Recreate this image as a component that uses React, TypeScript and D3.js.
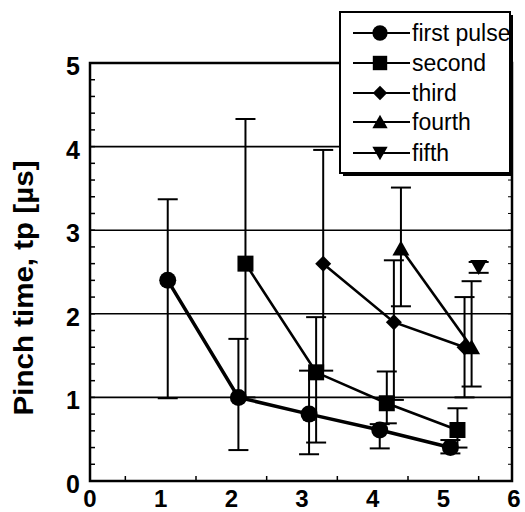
import React from "react";
import * as d3 from "d3";

const seriesNames = ["first pulse", "second", "third", "fourth", "fifth"];
const markerKinds = ["circle", "square", "diamond", "triUp", "triDown"];

const firstX = [1.1, 2.1, 3.1, 4.1, 5.1];
const firstY = [2.4, 1.0, 0.8, 0.61, 0.4];
const firstHi = [3.37, 1.7, 1.32, 0.68, 0.49];
const firstLo = [0.99, 0.37, 0.32, 0.39, 0.33];

const secondX = [2.2, 3.2, 4.2, 5.2];
const secondY = [2.6, 1.3, 0.93, 0.61];
const secondHi = [4.33, 1.96, 1.31, 0.87];
const secondLo = [1.0, 0.46, 0.69, 0.4];

const thirdX = [3.3, 4.3, 5.3];
const thirdY = [2.6, 1.9, 1.6];
const thirdHi = [3.96, 2.64, 2.2];
const thirdLo = [1.32, 0.97, 1.0];

const fourthX = [4.4, 5.4];
const fourthY = [2.78, 1.6];
const fourthHi = [3.51, 2.39];
const fourthLo = [2.09, 1.13];

const fifthX = [5.5];
const fifthY = [2.56];
const fifthHi = [2.62];
const fifthLo = [2.49];

const xTicks = [0, 1, 2, 3, 4, 5, 6];
const yTicks = [0, 1, 2, 3, 4, 5];
const gridValues = [1, 2, 3, 4];
const yLabel = "Pinch time, tp [µs]";

const series = [
  { x: firstX, y: firstY, hi: firstHi, lo: firstLo },
  { x: secondX, y: secondY, hi: secondHi, lo: secondLo },
  { x: thirdX, y: thirdY, hi: thirdHi, lo: thirdLo },
  { x: fourthX, y: fourthY, hi: fourthHi, lo: fourthLo },
  { x: fifthX, y: fifthY, hi: fifthHi, lo: fifthLo },
];

const L = 90, R = 512, T = 63, B = 481;
const xs = d3.scaleLinear().domain([0, 6]).range([L, R + 2]);
const ys = d3.scaleLinear().domain([0, 5]).range([B, T]);

function Marker({ kind, cx, cy, s = 1 }: { kind: string; cx: number; cy: number; s?: number }) {
  if (kind === "circle") return <circle cx={cx} cy={cy} r={8.5 * s} fill="#000" />;
  if (kind === "square") {
    const h = 8 * s;
    return <rect x={cx - h} y={cy - h} width={2 * h} height={2 * h} fill="#000" />;
  }
  if (kind === "diamond") {
    const h = 8 * s;
    return <path d={`M${cx},${cy - h}L${cx + h},${cy}L${cx},${cy + h}L${cx - h},${cy}Z`} fill="#000" />;
  }
  if (kind === "triUp") {
    const w = 8.5 * s, h = 7 * s;
    return <path d={`M${cx},${cy - h - 1}L${cx + w},${cy + h}L${cx - w},${cy + h}Z`} fill="#000" />;
  }
  const w = 8.5 * s, h = 7 * s;
  return <path d={`M${cx - w},${cy - h}L${cx + w},${cy - h}L${cx},${cy + h + 1}Z`} fill="#000" />;
}

export default function App() {
  const line = d3.line<[number, number]>().x((d) => xs(d[0])).y((d) => ys(d[1]));
  const yMinor = d3.range(0, 5.001, 0.2);
  const xMinor = d3.range(0.5, 6, 1);
  const cap = 10;
  const font = "'Liberation Sans', Arial, Helvetica, sans-serif";
  const legRows = [33, 63, 93, 122, 153];
  return (
    <svg width={525} height={512} style={{ position: "absolute", left: 0, top: 0 }} fontFamily={font}>
      <rect width={525} height={512} fill="#fff" />
      {/* grid */}
      {gridValues.map((g) => (
        <line key={g} x1={L} x2={R} y1={ys(g)} y2={ys(g)} stroke="#000" strokeWidth={1.6} />
      ))}
      {/* ticks */}
      {yMinor.map((v, i) => (
        <g key={"ym" + i}>
          <line x1={L} x2={L + 5} y1={ys(v)} y2={ys(v)} stroke="#000" strokeWidth={1.5} />
          <line x1={R} x2={R - 4} y1={ys(v)} y2={ys(v)} stroke="#000" strokeWidth={1} />
        </g>
      ))}
      {xMinor.map((v, i) => (
        <line key={"xm" + i} x1={xs(v)} x2={xs(v)} y1={B} y2={B - 5} stroke="#000" strokeWidth={1.5} />
      ))}
      {/* frame */}
      <rect x={L} y={T} width={R - L} height={B - T} fill="none" stroke="#000" strokeWidth={2.5} />
      {/* error bars */}
      {series.map((s, si) =>
        s.x.map((xv, i) => {
          const px = xs(xv);
          return (
            <g key={`e${si}-${i}`} stroke="#000" strokeWidth={2}>
              <line x1={px} x2={px} y1={ys(s.hi[i])} y2={ys(s.lo[i])} />
              <line x1={px - cap} x2={px + cap} y1={ys(s.hi[i])} y2={ys(s.hi[i])} />
              <line x1={px - cap} x2={px + cap} y1={ys(s.lo[i])} y2={ys(s.lo[i])} />
            </g>
          );
        })
      )}
      {/* lines */}
      {series.map((s, si) => (
        <path
          key={"l" + si}
          d={line(s.x.map((xv, i) => [xv, s.y[i]] as [number, number])) || ""}
          fill="none"
          stroke="#000"
          strokeWidth={si === 0 ? 3.5 : 2.6}
        />
      ))}
      {/* markers */}
      {series.map((s, si) =>
        s.x.map((xv, i) => <Marker key={`m${si}-${i}`} kind={markerKinds[si]} cx={xs(xv)} cy={ys(s.y[i])} />)
      )}
      {/* tick labels */}
      {yTicks.map((t) => (
        <text key={"yt" + t} x={80} y={ys(t) + 12} textAnchor="end" fontSize={25} fontWeight="bold">
          {t}
        </text>
      ))}
      {xTicks.map((t) => (
        <text key={"xt" + t} x={xs(t)} y={507} textAnchor="middle" fontSize={24} fontWeight="bold">
          {t}
        </text>
      ))}
      {/* y label */}
      <text
        transform={`translate(33,288) rotate(-90)`}
        textAnchor="middle"
        fontSize={27}
        fontWeight="bold"
        textLength={255}
        lengthAdjust="spacingAndGlyphs"
      >
        {yLabel}
      </text>
      {/* legend */}
      <rect x={343} y={15} width={170} height={161} fill="#000" />
      <rect x={340} y={12} width={170} height={161} fill="#fff" stroke="#000" strokeWidth={2} />
      {seriesNames.map((n, i) => (
        <g key={"lg" + i}>
          <line x1={353} x2={410} y1={legRows[i]} y2={legRows[i]} stroke="#000" strokeWidth={2} />
          <Marker kind={markerKinds[i]} cx={380} cy={legRows[i]} s={0.9} />
          <text x={412} y={legRows[i] + 8} fontSize={23}>
            {n}
          </text>
        </g>
      ))}
    </svg>
  );
}
